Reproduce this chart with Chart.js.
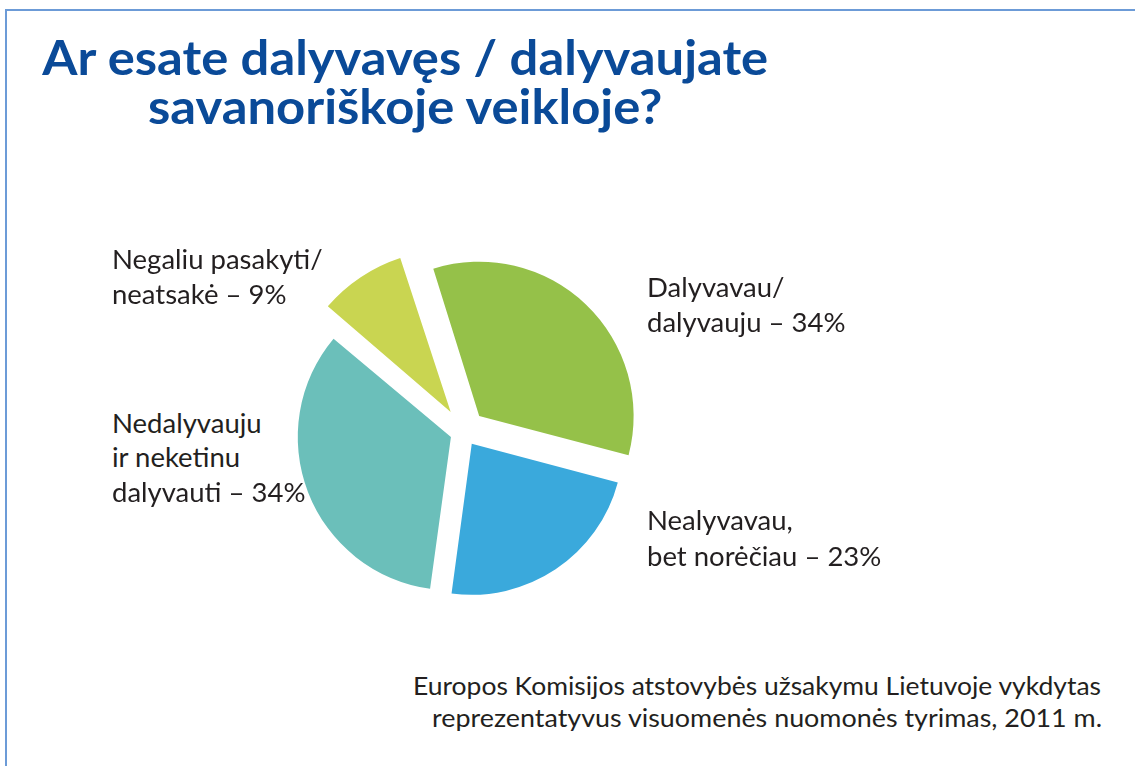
<!DOCTYPE html>
<html lang="lt">
<head>
<meta charset="utf-8">
<title>Ar esate dalyvavęs / dalyvaujate savanoriškoje veikloje?</title>
<script src="https://cdn.jsdelivr.net/npm/chart.js@4.4.1/dist/chart.umd.min.js"></script>
<style>
  html, body { margin: 0; padding: 0; background: #fff; }
  body { width: 1135px; height: 766px; position: relative; overflow: hidden; font-family: Lato, "Open Sans", sans-serif; }
  .frame { position: absolute; left: 5px; top: 9px; right: -4px; bottom: -4px; border-top: 2px solid #6c9bd7; border-left: 2px solid #6c9bd7; }
  .txt { position: absolute; white-space: nowrap; line-height: 1; }
  .mark { display: inline-block; width: 0; height: 0; vertical-align: baseline; }
  #title { position: absolute; white-space: nowrap; text-align: center; font-size: 48px; font-weight: 700; color: #0a4a98; line-height: 49px; transform-origin: 50% 0; }
  #pieBox { position: absolute; left: 264px; top: 232px; width: 400px; height: 400px; }
</style>
</head>
<body>
<div class="frame"></div>
<div id="title"></div>
<div id="pieBox"><canvas id="pie" width="400" height="400"></canvas></div>

<script>
// duomenys
const categories = ["Dalyvavau/ dalyvauju", "Nealyvavau, bet norėčiau", "Nedalyvauju ir neketinu dalyvauti", "Negaliu pasakyti/ neatsakė"];
const categoryLines = [["Dalyvavau/", "dalyvauju"], ["Nealyvavau,", "bet norėčiau"], ["Nedalyvauju", "ir neketinu", "dalyvauti"], ["Negaliu pasakyti/", "neatsakė"]];
const shares = [34, 23, 34, 9];
const titleLines = ["Ar esate dalyvavęs / dalyvaujate", "savanoriškoje veikloje?"];
const sourceLines = ["Europos Komisijos atstovybės užsakymu Lietuvoje vykdytas", "reprezentatyvus visuomenės nuomonės tyrimas, 2011 m."];

// išdėstymas ir stilius
const sliceColors = ["#95c149", "#3aa9dc", "#6bbfba", "#c9d551"];
const sliceOffsets = [88, 56, 56, 96];
const labelPos = [
  { x: 647, y: [297, 332] },
  { x: 647, y: [530, 566] },
  { x: 112, y: [433, 467, 502] },
  { x: 112, y: [269, 304] },
];

function placeText(text, x, baseline, opts) {
  const { size = 26, weight = 400, color = "#231f20", align = "left", width = null } = opts || {};
  const div = document.createElement("div");
  div.className = "txt";
  div.style.fontSize = size + "px";
  div.style.fontWeight = weight;
  div.style.color = color;

  const span = document.createElement("span");
  span.textContent = text;
  const mark = document.createElement("span");
  mark.className = "mark";
  div.appendChild(span);
  div.appendChild(mark);
  document.body.appendChild(div);

  const natural = span.getBoundingClientRect().width;
  const w = width || natural;
  const scale = w / natural;
  let left = x;
  if (align === "right") left = x - w;
  if (align === "center") left = x - w / 2;

  div.style.left = left + "px";
  div.style.top = baseline - mark.offsetTop + "px";
  div.style.transformOrigin = "0 0";
  div.style.transform = "scaleX(" + scale + ")";
  return div;
}

function drawTitle() {
  // two lines in one block, centred at x = 405, first baseline at y = 75
  const title = document.getElementById("title");
  const first = document.createElement("span");
  first.textContent = titleLines[0];
  const mark = document.createElement("span");
  mark.className = "mark";
  title.appendChild(first);
  title.appendChild(mark);
  title.appendChild(document.createElement("br"));
  title.appendChild(document.createTextNode(titleLines[1]));

  const w = title.getBoundingClientRect().width;
  const scale = 726 / first.getBoundingClientRect().width;
  title.style.left = 405 - w / 2 + "px";
  title.style.top = 75 - mark.offsetTop + "px";
  title.style.transform = "scaleX(" + scale + ")";
}

function drawTexts() {
  drawTitle();

  categoryLines.forEach((lines, i) => {
    const pos = labelPos[i];
    lines.forEach((line, j) => {
      const last = j === lines.length - 1;
      const txt = last ? line + " – " + shares[i] + "%" : line;
      placeText(txt, pos.x, pos.y[j], { size: 27.5 });
    });
  });

  placeText(sourceLines[0], 1101, 695, { size: 25, align: "right", width: 688 });
  placeText(sourceLines[1], 1102, 727, { size: 25, align: "right", width: 670 });
}

const pieChart = new Chart(document.getElementById("pie"), {
  type: "pie",
  data: {
    labels: categories,
    datasets: [
      {
        data: shares,
        backgroundColor: sliceColors,
        borderWidth: 0,
        offset: sliceOffsets,
        hoverOffset: 0,
      },
    ],
  },
  options: {
    responsive: false,
    animation: false,
    events: [],
    rotation: -17.5,
    radius: 151,
    layout: { padding: 0 },
    plugins: {
      legend: { display: false },
      tooltip: { enabled: false },
    },
  },
});

if (document.fonts && document.fonts.ready) {
  document.fonts.ready.then(drawTexts);
} else {
  drawTexts();
}
</script>
</body>
</html>
